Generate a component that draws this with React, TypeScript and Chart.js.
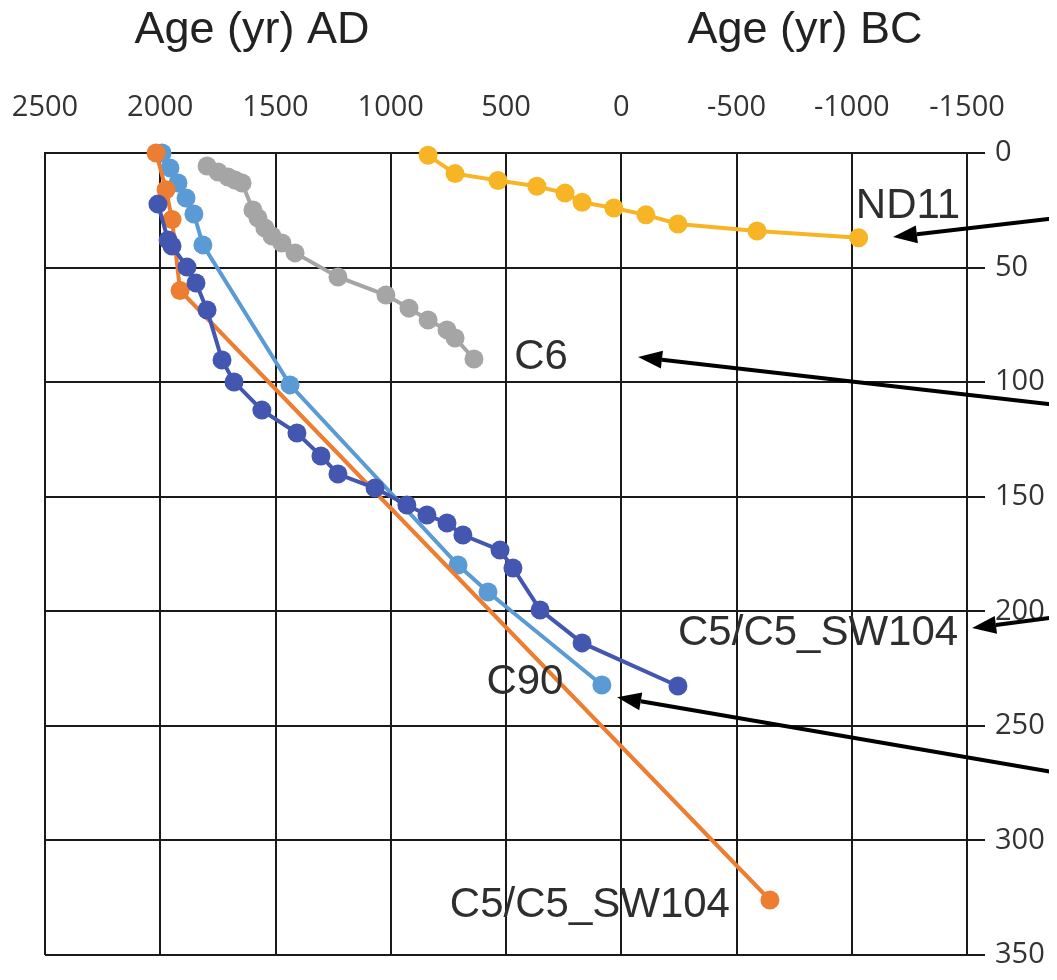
import React, { useEffect, useRef } from 'react';
import { Chart, registerables } from 'chart.js';

Chart.register(...registerables);

// ---- Data (age in yr AD/BC as signed years, depth in cm) ----
const ageTicks = [2500, 2000, 1500, 1000, 500, 0, -500, -1000, -1500];
const depthTicks = [0, 50, 100, 150, 200, 250, 300, 350];

const nd11Age = [838, 721, 535, 366, 244, 170, 32, -107, -246, -589, -1030];
const nd11Depth = [1, 9, 12, 14.5, 17.5, 21.5, 24, 27, 31, 34, 37];

const c6Age = [1797, 1749, 1706, 1676, 1645, 1598, 1576, 1546, 1515, 1472, 1415, 1229, 1021, 921, 838, 756, 721, 639];
const c6Depth = [5.7, 8.3, 10.5, 11.8, 13.1, 24.9, 28.4, 32.7, 36.2, 39.3, 43.6, 54.1, 62, 67.7, 72.9, 77.2, 80.7, 89.9];

const c5Age = [2010, 1966, 1949, 1884, 1845, 1797, 1732, 1680, 1559, 1407, 1303, 1229, 1068, 930, 843, 756, 687, 526, 470, 352, 170, -246];
const c5Depth = [22.3, 38, 40.6, 49.8, 56.7, 68.5, 90.3, 99.9, 112.2, 122.2, 132.2, 140.1, 146.2, 153.6, 158, 161.5, 166.7, 173.3, 181.1, 199.4, 213.8, 232.6];

const c90Age = [1992, 1958, 1923, 1888, 1854, 1815, 1437, 708, 578, 84];
const c90Depth = [0, 6.5, 13.1, 19.6, 26.6, 40.1, 101.2, 179.8, 191.6, 232.2];

const sw104Age = [2018, 1975, 1949, 1914, -645];
const sw104Depth = [0, 16, 29, 60, 326];

const labelTexts = ['ND11', 'C6', 'C5/C5_SW104', 'C90', 'C5/C5_SW104'];
const labelAges = [-1244, 348, -854, 418, 136];
const labelDepths = [23.1, 89, 209.5, 230.9, 328.2];

const arrowFromAge = [-1890, -1890, -1890, -1890];
const arrowFromDepth = [28.4, 110, 202.5, 270.5];
const arrowToAge = [-1179, -73, -1522, 18];
const arrowToDepth = [36.7, 89, 207.3, 237.5];

const titleTexts = ['Age (yr) AD', 'Age (yr) BC'];
const titleAges = [1602, -797];

const toPoints = (xs: number[], ys: number[]) => xs.map((x, i) => ({ x, y: ys[i] }));

const annotationPlugin = {
  id: 'annotations',
  afterDatasetsDraw(chart: any) {
    const { ctx, scales } = chart;
    const xs = scales.x;
    const ys = scales.y;
    ctx.save();
    // titles
    ctx.fillStyle = '#222222';
    ctx.font = '45px "Liberation Sans", Arial, sans-serif';
    ctx.textAlign = 'center';
    ctx.textBaseline = 'alphabetic';
    titleTexts.forEach((t, i) => {
      ctx.fillText(t, xs.getPixelForValue(titleAges[i]), 35);
    });
    // series labels
    ctx.font = '42px "Liberation Sans", Arial, sans-serif';
    ctx.textBaseline = 'middle';
    ctx.fillStyle = '#2e2e2e';
    labelTexts.forEach((t, i) => {
      ctx.fillText(t, xs.getPixelForValue(labelAges[i]), ys.getPixelForValue(labelDepths[i]));
    });
    // arrows
    ctx.strokeStyle = '#000';
    ctx.fillStyle = '#000';
    ctx.lineWidth = 4;
    arrowFromAge.forEach((a, i) => {
      const x1 = xs.getPixelForValue(a);
      const y1 = ys.getPixelForValue(arrowFromDepth[i]);
      const x2 = xs.getPixelForValue(arrowToAge[i]);
      const y2 = ys.getPixelForValue(arrowToDepth[i]);
      const ang = Math.atan2(y2 - y1, x2 - x1);
      const headLen = 24;
      const headW = 9;
      const bx = x2 - headLen * Math.cos(ang);
      const by = y2 - headLen * Math.sin(ang);
      ctx.beginPath();
      ctx.moveTo(x1, y1);
      ctx.lineTo(bx, by);
      ctx.stroke();
      ctx.beginPath();
      ctx.moveTo(x2, y2);
      ctx.lineTo(bx + headW * Math.sin(ang), by - headW * Math.cos(ang));
      ctx.lineTo(bx - headW * Math.sin(ang), by + headW * Math.cos(ang));
      ctx.closePath();
      ctx.fill();
    });
    ctx.restore();
  },
};

function series(label: string, xs: number[], ys: number[], color: string) {
  return {
    label,
    data: toPoints(xs, ys),
    showLine: true,
    borderColor: color,
    backgroundColor: color,
    pointBackgroundColor: color,
    pointBorderColor: color,
    pointRadius: 9.5,
    pointBorderWidth: 0,
    borderWidth: 4,
    clip: false as any,
  };
}

const zeroPad = (s: any) => {
  s.paddingLeft = 0;
  s.paddingRight = 0;
  s.paddingTop = 0;
  s.paddingBottom = 0;
};

export default function App() {
  const ref = useRef<HTMLCanvasElement | null>(null);
  useEffect(() => {
    if (!ref.current) return;
    const tickFont = { family: "'Open Sans', sans-serif", size: 29 };
    const chart = new Chart(ref.current, {
      type: 'scatter',
      data: {
        datasets: [
          series('C5/C5_SW104', c5Age, c5Depth, '#4356B0'),
          series('C5/C5_SW104 (SW104)', sw104Age, sw104Depth, '#ED7D31'),
          series('C90', c90Age, c90Depth, '#5B9BD5'),
          series('C6', c6Age, c6Depth, '#A5A5A5'),
          series('ND11', nd11Age, nd11Depth, '#F7B526'),
        ] as any,
      },
      options: {
        animation: false,
        responsive: false,
        maintainAspectRatio: false,
        layout: { padding: { left: 37, right: 0, top: 0, bottom: 17 } },
        plugins: {
          legend: { display: false },
          tooltip: { enabled: false },
          title: { display: false },
        },
        scales: {
          x: {
            type: 'linear',
            position: 'top',
            reverse: true,
            min: ageTicks[ageTicks.length - 1],
            max: ageTicks[0],
            afterFit: (s: any) => { s.height = 145; zeroPad(s); },
            afterBuildTicks: (s: any) => { s.ticks = ageTicks.map((v) => ({ value: v })); },
            ticks: {
              stepSize: 500,
              padding: 28,
              color: '#333333',
              font: tickFont,
              maxRotation: 0,
              autoSkip: false,
              callback: (v: any) => String(v),
            },
            grid: { color: '#1a1a1a', lineWidth: 2, drawTicks: false },
            border: { display: true, color: '#1a1a1a', width: 2 },
          },
          y: {
            type: 'linear',
            position: 'right',
            reverse: true,
            min: depthTicks[0],
            max: depthTicks[depthTicks.length - 1],
            afterFit: (s: any) => { s.width = 90; zeroPad(s); },
            afterBuildTicks: (s: any) => { s.ticks = depthTicks.map((v) => ({ value: v })); },
            ticks: {
              stepSize: 50,
              padding: 10,
              color: '#333333',
              font: tickFont,
              autoSkip: false,
              callback: (v: any) => String(v),
            },
            grid: { color: '#1a1a1a', lineWidth: 2, drawTicks: true, tickLength: 18 },
            border: { display: true, color: '#1a1a1a', width: 2 },
          },
        },
      } as any,
      plugins: [annotationPlugin],
    });
    return () => chart.destroy();
  }, []);
  return (
    <div style={{ width: 1049, height: 964 }}>
      <canvas ref={ref} width={1049} height={964} style={{ display: 'block', width: 1049, height: 964 }} />
    </div>
  );
}
